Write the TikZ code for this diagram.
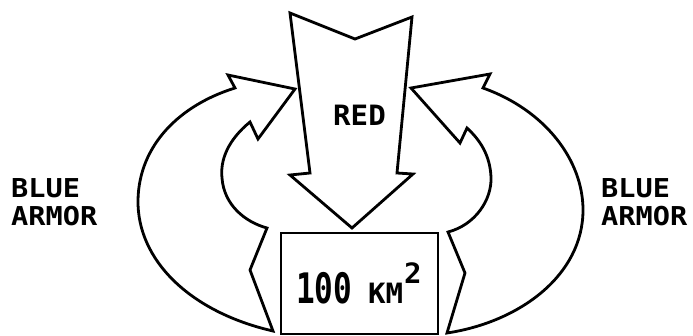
\documentclass[tikz,border=0pt]{standalone}
\usepackage{fontspec}
\newfontfamily\lblfont[FakeStretch=1.1]{DejaVu Sans Mono}
\newfontfamily\redfont[FakeStretch=1.04]{DejaVu Sans Mono}
\newfontfamily\numfont[FakeStretch=0.74]{DejaVu Sans Mono}
\begin{document}
\begin{tikzpicture}[x=1pt,y=-1pt,
  shape outline/.style={draw=black,line width=2.8pt,fill=white,line join=miter},
  lbl/.style={inner sep=0pt,anchor=base west,font=\lblfont\bfseries\fontsize{26}{26}\selectfont},
  redlbl/.style={inner sep=0pt,anchor=base west,font=\redfont\bfseries\fontsize{28}{28}\selectfont},
  numlbl/.style={inner sep=0pt,anchor=base west,font=\numfont\bfseries\fontsize{42}{42}\selectfont},
  unitlbl/.style={inner sep=0pt,anchor=base west,font=\redfont\bfseries\fontsize{28}{28}\selectfont}
]
\fill[white] (0,0) rectangle (693,335);
\useasboundingbox (0,0) rectangle (693,335);
\begin{scope}
\clip (0,0) rectangle (693,335);
% area box
\draw[shape outline] (281,233) rectangle (438,334);
% left blue arrow
\draw[shape outline] (228,75) -- (295,89) -- (258,139) -- (250,122)
  .. controls (228,140) and (220,160) .. (222,178)
  .. controls (224,205) and (245,222) .. (267,228)
  -- (250,270) -- (273,331)
  .. controls (190,312) and (137,260) .. (138,200)
  .. controls (139,145) and (180,105) .. (235,88) -- cycle;
% right blue arrow
\draw[shape outline] (411,88) -- (490,74) -- (483,88)
  .. controls (545,110) and (583,160) .. (583,210)
  .. controls (583,275) and (520,322) .. (447,333)
  -- (465,273) -- (448,232)
  .. controls (475,225) and (492,200) .. (491,177)
  .. controls (490,155) and (480,140) .. (467,128)
  -- (460,143) -- cycle;
% red arrow
\draw[shape outline] (290,13) -- (355,39) -- (412,17) -- (397,173) -- (413,174)
  -- (352,228) -- (290,175) -- (310,173) -- cycle;
\end{scope}
% labels
\node[redlbl] (red) at (333,125) {RED};
\node[lbl] (lblue) at (11,197) {BLUE};
\node[lbl] (larmor) at (11,225) {ARMOR};
\node[lbl] (rblue) at (601,197) {BLUE};
\node[lbl] (rarmor) at (601,225) {ARMOR};
\node[numlbl] (num) at (296,303) {100};
\node[unitlbl] (unit) at (368,303) {KM};
\node[unitlbl] (sq) at (404,283) {2};
\end{tikzpicture}
\end{document}
